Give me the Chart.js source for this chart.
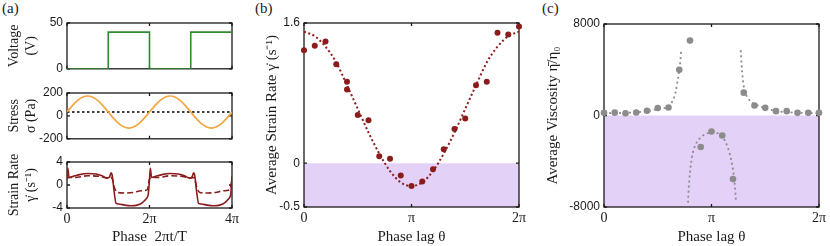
<!DOCTYPE html>
<html lang="en">
<head>
    <meta charset="UTF-8">
    <title>Phase lag and strain rate</title>
    <script src="https://cdn.jsdelivr.net/npm/chart.js"></script>
    <style>
        body {
            margin: 0;
            background: #fff;
            width: 830px;
            height: 246px;
            position: relative;
            overflow: hidden;
            font-family: 'Liberation Serif', serif;
        }
        canvas { position: absolute; }
        .tag {
            position: absolute;
            font-size: 15px;
            color: #222;
            line-height: 15px;
        }
    </style>
</head>
<body>
    <div class="tag" style="left:2px;top:1px">(a)</div>
    <div class="tag" style="left:255px;top:1px">(b)</div>
    <div class="tag" style="left:542px;top:1px">(c)</div>
    <canvas id="voltChart"></canvas>
    <canvas id="stressChart"></canvas>
    <canvas id="rateChart"></canvas>
    <canvas id="lagRateChart"></canvas>
    <canvas id="viscChart"></canvas>

<script>
// ---- data (phase values are in units of pi) ----
const cycleTicks = [0, 2, 4];
const cycleLabels = ['0', '2π', '4π'];
const lagTicks = [0, 1, 2];
const lagLabels = ['0', 'π', '2π'];

const voltTicks = [0, 50];
const voltX = [0, 1, 1, 2, 2, 3, 3, 4];
const voltY = [0, 0, 40, 40, 0, 0, 40, 40];

const stressTicks = [-200, 0, 200];
const stressX = [0, 0.125, 0.25, 0.375, 0.5, 0.625, 0.75, 0.875, 1, 1.125, 1.25, 1.375, 1.5, 1.625, 1.75, 1.875,
                 2, 2.125, 2.25, 2.375, 2.5, 2.625, 2.75, 2.875, 3, 3.125, 3.25, 3.375, 3.5, 3.625, 3.75, 3.875, 4];
const stressY = [34, 88, 133, 163, 174, 163, 133, 88, 34, -20, -65, -95, -106, -95, -65, -20,
                 34, 88, 133, 163, 174, 163, 133, 88, 34, -20, -65, -95, -106, -95, -65, -20, 34];
const stressMean = 34;

const rateTicks = [-4, 0, 4];
const rateSolidX = [0, 0.02, 0.05, 0.15, 0.3, 0.5, 0.7, 0.85, 0.97, 1.03, 1.07, 1.1, 1.14, 1.19, 1.25, 1.4, 1.55, 1.7, 1.82, 1.92, 1.97,
                    2, 2.02, 2.05, 2.15, 2.3, 2.5, 2.7, 2.85, 2.97, 3.03, 3.07, 3.1, 3.14, 3.19, 3.25, 3.4, 3.55, 3.7, 3.82, 3.92, 3.97, 4];
const rateSolidY = [1.0, 2.9, 1.3, 1.5, 1.8, 2.0, 1.9, 1.6, 1.2, 1.4, 2.1, 1.5, -1.0, -3.2, -3.3, -3.5, -3.6, -3.5, -3.1, -2.4, -1.6,
                    1.0, 2.9, 1.3, 1.5, 1.8, 2.0, 1.9, 1.6, 1.2, 1.4, 2.1, 1.5, -1.0, -3.2, -3.3, -3.5, -3.6, -3.5, -3.1, -2.4, -1.6, 1.6];
const rateDashX = [0, 0.03, 0.2, 0.5, 0.8, 1.0, 1.08, 1.15, 1.22, 1.4, 1.6, 1.8, 1.95, 1.99,
                   2, 2.03, 2.2, 2.5, 2.8, 3.0, 3.08, 3.15, 3.22, 3.4, 3.6, 3.8, 3.95, 4];
const rateDashY = [1.0, 1.3, 1.3, 1.6, 1.5, 1.2, 1.3, -0.5, -1.3, -1.4, -1.3, -1.0, -0.8, 0.8,
                   1.0, 1.3, 1.3, 1.6, 1.5, 1.2, 1.3, -0.5, -1.3, -1.4, -1.3, -1.0, -0.8, 0.9];

const lagRateTicks = [-0.5, 0, 1.6];
const lagB = [0, 0.1, 0.2, 0.3, 0.4, 0.4, 0.5, 0.6, 0.7, 0.8, 0.9, 1.0, 1.1, 1.2, 1.3, 1.4, 1.5, 1.6, 1.7, 1.8, 1.9, 2.0];
const rateB = [1.29, 1.34, 1.39, 1.13, 0.93, 0.84, 0.55, 0.49, 0.08, 0.05, -0.14, -0.26, -0.21, -0.07, 0.16, 0.39, 0.51, 0.89, 0.93, 1.49, 1.47, 1.56];
const fitBX = [0, 0.1, 0.2, 0.3, 0.4, 0.5, 0.6, 0.7, 0.8, 0.9, 1.0, 1.1, 1.2, 1.3, 1.4, 1.5, 1.6, 1.7, 1.8, 1.9, 2.0];
const fitBY = [1.50, 1.45, 1.33, 1.15, 0.89, 0.62, 0.35, 0.11, -0.09, -0.22, -0.26, -0.22, -0.09, 0.11, 0.35, 0.62, 0.89, 1.15, 1.33, 1.45, 1.50];

const viscTicks = [-8000, 0, 8000];
const lagC = [0, 0.1, 0.2, 0.3, 0.4, 0.5, 0.6, 0.7, 0.8, 0.9, 1.0, 1.1, 1.2, 1.3, 1.4, 1.5, 1.6, 1.7, 1.8, 1.9, 2.0];
const viscC = [230, 250, 200, 260, 410, 650, 700, 4000, 6550, -2750, -1400, -1750, -5550, 2000, 880, 670, 380, 380, 230, 230, 230];
const branch1X = [0, 0.2, 0.4, 0.5, 0.6, 0.64, 0.67, 0.69, 0.705, 0.718];
const branch1Y = [200, 230, 380, 560, 790, 1320, 2200, 3370, 4250, 5700];
const branch2X = [1.272, 1.28, 1.29, 1.305, 1.33, 1.37, 1.45, 1.57, 1.73, 2.0];
const branch2Y = [5700, 4400, 3300, 2300, 1650, 1200, 800, 450, 270, 200];
const branch3X = [0.781, 0.793, 0.818, 0.855, 0.902, 0.949, 1.0, 1.058, 1.104, 1.151, 1.191, 1.213, 1.229];
const branch3Y = [-7620, -5710, -3660, -2490, -1900, -1610, -1465, -1550, -1900, -2780, -4250, -5710, -7620];

// ---- styles ----
const darkRed = '#8b1c1c';
const grey = '#8c8c8c';
const lilac = '#e3d1f8';
const serif = "'Liberation Serif', serif";
const sans = "'Liberation Sans', sans-serif";

const pts = (xs, ys) => xs.map((x, i) => ({ x: x, y: ys[i] }));

// frame round the plot area with small inward ticks
const frame = {
    id: 'frame',
    beforeDatasetsDraw(chart) {
        const { ctx, chartArea: a, scales } = chart;
        ctx.save();
        ctx.strokeStyle = '#1a1a1a';
        ctx.lineWidth = 1.3;
        ctx.strokeRect(a.left, a.top, a.right - a.left, a.bottom - a.top);
        ctx.beginPath();
        scales.x.ticks.forEach(t => {
            const p = scales.x.getPixelForValue(t.value);
            ctx.moveTo(p, a.bottom); ctx.lineTo(p, a.bottom - 3);
            ctx.moveTo(p, a.top); ctx.lineTo(p, a.top + 3);
        });
        scales.y.ticks.forEach(t => {
            const p = scales.y.getPixelForValue(t.value);
            ctx.moveTo(a.left, p); ctx.lineTo(a.left + 3, p);
            ctx.moveTo(a.right, p); ctx.lineTo(a.right - 3, p);
        });
        ctx.stroke();
        ctx.restore();
    }
};

function xAxis(min, max, ticks, labels, showLabels, title) {
    return {
        type: 'linear', min: min, max: max,
        grid: { display: false, drawTicks: false },
        border: { display: false },
        afterBuildTicks: s => { s.ticks = ticks.map(v => ({ value: v })); },
        ticks: {
            display: showLabels, padding: 3, autoSkip: false, maxRotation: 0,
            color: '#1a1a1a', font: { family: serif, size: 14 },
            callback: (v, i) => labels[i]
        },
        title: {
            display: !!title, text: title || '', color: '#1a1a1a',
            font: { family: serif, size: 15, lineHeight: 1.2 }, padding: 0
        }
    };
}

function yAxis(min, max, ticks, title, titleSize, titlePad) {
    return {
        min: min, max: max,
        grid: { display: false, drawTicks: false },
        border: { display: false },
        afterBuildTicks: s => { s.ticks = ticks.map(v => ({ value: v })); },
        ticks: {
            padding: 4, autoSkip: false, color: '#1a1a1a', font: { family: sans, size: 12 },
            callback: v => String(v)
        },
        title: {
            display: true, text: title, color: '#1a1a1a',
            font: { family: serif, size: titleSize, lineHeight: 1.2 },
            padding: { top: titlePad, bottom: 0 }
        }
    };
}

function panel(id, box, area, datasets, scales) {
    const cv = document.getElementById(id);
    cv.width = box.w;
    cv.height = box.h;
    cv.style.left = box.x + 'px';
    cv.style.top = box.y + 'px';
    scales.x.afterFit = s => { s.height = box.y + box.h - area.y - area.h; };
    scales.y.afterFit = s => { s.width = area.x - box.x; };
    return new Chart(cv, {
        type: 'line',
        data: { datasets: datasets },
        options: {
            responsive: false,
            animation: false,
            devicePixelRatio: 1,
            layout: { padding: { left: 0, top: area.y - box.y, right: box.x + box.w - area.x - area.w, bottom: 0 } },
            scales: scales,
            plugins: {
                legend: { display: false },
                tooltip: { enabled: false },
                filler: { drawTime: 'beforeDatasetsDraw' }
            }
        },
        plugins: [frame]
    });
}

function curve(data, color, width, dash, smooth) {
    return {
        data: data, borderColor: color, borderWidth: width, borderDash: dash || [],
        pointRadius: 0, fill: false, tension: 0,
        cubicInterpolationMode: smooth ? 'monotone' : 'default'
    };
}

function dots(data, color, r) {
    return {
        data: data, showLine: false, pointRadius: r, pointBorderWidth: 0,
        pointBackgroundColor: color, borderColor: color, clip: false
    };
}

function negativeShade(xmax) {
    return {
        data: [{ x: 0, y: 0 }, { x: xmax, y: 0 }], borderWidth: 0, pointRadius: 0,
        fill: 'start', backgroundColor: lilac, order: 10
    };
}

// (a) voltage
panel('voltChart', { x: 0, y: 0, w: 245, h: 80 }, { x: 67, y: 23, w: 165, h: 46 },
    [curve(pts(voltX, voltY), '#2e8b2e', 1.6)],
    { x: xAxis(0, 4, cycleTicks, cycleLabels, false), y: yAxis(0, 50, voltTicks, ['Voltage', '(V)'], 14, 6) });

// (a) stress
panel('stressChart', { x: 0, y: 80, w: 245, h: 70 }, { x: 67, y: 93, w: 165, h: 46 },
    [curve(pts(stressX, stressY), '#f4a640', 1.7, null, true),
     curve([{ x: 0, y: stressMean }, { x: 4, y: stressMean }], '#000', 1.6, [2.5, 2.5])],
    { x: xAxis(0, 4, cycleTicks, cycleLabels, false), y: yAxis(-200, 200, stressTicks, ['Stress', 'σ (Pa)'], 14, 6) });

// (a) strain rate
panel('rateChart', { x: 0, y: 150, w: 245, h: 96 }, { x: 67, y: 162, w: 165, h: 46 },
    [curve(pts(rateSolidX, rateSolidY), darkRed, 1.6, null, true),
     curve(pts(rateDashX, rateDashY), darkRed, 1.6, [6, 3], true)],
    { x: xAxis(0, 4, cycleTicks, cycleLabels, true, 'Phase  2πt/T'),
      y: yAxis(-4, 4, rateTicks, ['Strain Rate', 'γ̇ (s⁻¹)'], 14, 6) });

// (b) average strain rate vs phase lag
panel('lagRateChart', { x: 245, y: 0, w: 290, h: 246 }, { x: 304, y: 23, w: 215, h: 184 },
    [negativeShade(2),
     curve(pts(fitBX, fitBY), darkRed, 2, [2, 2.5], true),
     dots(pts(lagB, rateB), darkRed, 3)],
    { x: xAxis(0, 2, lagTicks, lagLabels, true, 'Phase lag θ'),
      y: yAxis(-0.5, 1.6, lagRateTicks, 'Average Strain Rate γ̇ (s⁻¹)', 15, 18) });

// (c) average viscosity vs phase lag
panel('viscChart', { x: 535, y: 0, w: 295, h: 246 }, { x: 604, y: 24, w: 215, h: 183 },
    [negativeShade(2),
     curve(pts(branch1X, branch1Y), grey, 1.8, [2, 3], true),
     curve(pts(branch2X, branch2Y), grey, 1.8, [2, 3], true),
     curve(pts(branch3X, branch3Y), grey, 1.8, [2, 3], true),
     dots(pts(lagC, viscC), grey, 3.3)],
    { x: xAxis(0, 2, lagTicks, lagLabels, true, 'Phase lag θ'),
      y: yAxis(-8000, 8000, viscTicks, 'Average Viscosity η̄/η₀', 15, 9) });
</script>
</body>
</html>
